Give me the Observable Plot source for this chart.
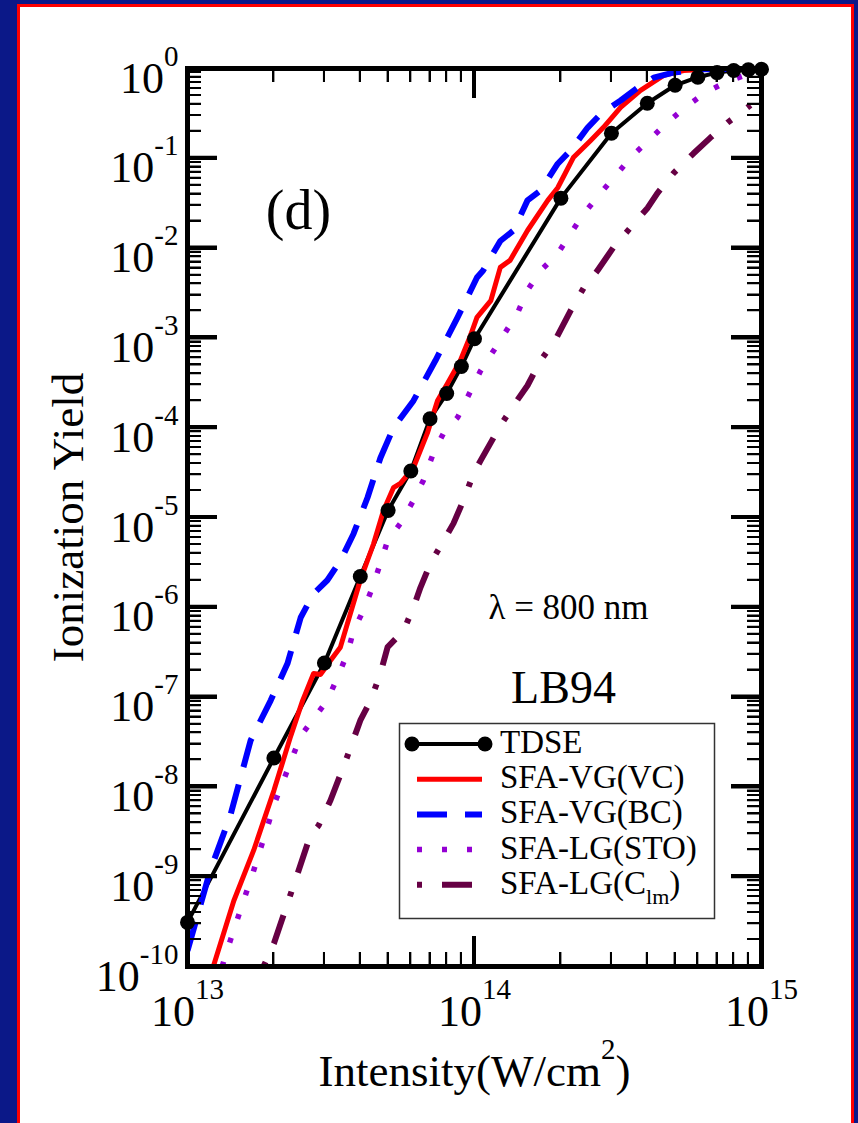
<!DOCTYPE html>
<html><head><meta charset="utf-8">
<script src="https://cdn.jsdelivr.net/npm/d3@7"></script>
<script src="https://cdn.jsdelivr.net/npm/@observablehq/plot@0.6"></script>
<style>
html,body{margin:0;padding:0;width:858px;height:1123px;overflow:hidden;background:#0b1888;}
#panel{position:absolute;left:17px;top:4px;width:831px;height:1140px;border:3px solid #ff0000;background:#fff;}
#chart{position:absolute;left:0;top:0;}
#tickdivs{position:absolute;left:0;top:0;width:858px;height:1123px;pointer-events:none;}
#tickdivs div{position:absolute;background:#000;}
</style></head>
<body><div id="panel"></div><div id="chart"></div><div id="tickdivs"></div>
<script>
// ---- data (intensity in W/cm^2, ionization yield) ----
const tdseX = [1e13, 2e13, 3e13, 4e13, 5e13, 6e13, 7e13, 8e13, 9e13, 1e14, 2e14, 3e14, 4e14, 5e14, 6e14, 7e14, 8e14, 9e14, 1e15];
const tdseY = [3.1e-10, 2.1e-8, 2.4e-7, 2.2e-6, 1.2e-5, 3.3e-5, 1.26e-4, 2.4e-4, 4.8e-4, 9.8e-4, 3.6e-2, 0.19, 0.41, 0.65, 0.80, 0.90, 0.95, 0.97, 0.98];

const vcX = [1.23e13, 1.45e13, 1.70e13, 2.0e13, 2.29e13, 2.52e13, 2.75e13, 2.91e13, 3.15e13, 3.41e13, 4.0e13, 4.45e13, 4.82e13, 5.22e13, 5.52e13, 6.13e13, 6.85e13, 7.43e13, 8.05e13, 8.93e13, 9.68e13, 1.02e14, 1.14e14, 1.23e14, 1.33e14, 1.53e14, 1.80e14, 1.95e14, 2.21e14, 2.54e14, 2.81e14, 3.23e14, 3.79e14, 4.56e14, 5.35e14, 7.2e14, 1e15];
const vcY = [1e-10, 5.4e-10, 1.96e-9, 9.1e-9, 3.7e-8, 9.2e-8, 1.83e-7, 1.79e-7, 2.56e-7, 3.6e-7, 2.0e-6, 5.1e-6, 1.2e-5, 2.15e-5, 2.4e-5, 3.6e-5, 8.7e-5, 2.0e-4, 3.1e-4, 5.6e-4, 1.06e-3, 1.69e-3, 2.6e-3, 6.1e-3, 7.3e-3, 1.57e-2, 3.4e-2, 4.7e-2, 0.102, 0.158, 0.22, 0.37, 0.57, 0.84, 0.95, 1.0, 1.0];

const bcX = [1e13, 1.20e13, 1.41e13, 1.66e13, 1.95e13, 2.23e13, 2.48e13, 2.75e13, 3.07e13, 3.41e13, 3.79e13, 4.24e13, 4.70e13, 5.22e13, 6.13e13, 7.31e13, 8.73e13, 1.02e14, 1.07e14, 1.23e14, 1.37e14, 1.53e14, 1.70e14, 1.95e14, 2.16e14, 2.48e14, 2.75e14, 3.23e14, 3.70e14, 4.21e14, 4.93e14, 6.1e14, 1e15];
const bcY = [1.5e-10, 1.17e-9, 4.8e-9, 3.3e-8, 9.2e-8, 2.36e-7, 7.7e-7, 1.42e-6, 2.0e-6, 3.3e-6, 6.6e-6, 1.67e-5, 4.6e-5, 1.0e-4, 2.0e-4, 5.6e-4, 1.69e-3, 4.7e-3, 5.6e-3, 1.2e-2, 1.58e-2, 3.4e-2, 4.4e-2, 8.7e-2, 0.122, 0.22, 0.31, 0.44, 0.61, 0.79, 0.90, 0.98, 1.0];

const stoX = [1.32e13, 1.41e13, 1.70e13, 2.03e13, 2.48e13, 3.07e13, 3.33e13, 3.61e13, 3.79e13, 4.10e13, 4.41e13, 4.70e13, 4.98e13, 5.52e13, 6.13e13, 6.64e13, 7.19e13, 7.80e13, 8.73e13, 1.05e14, 1.23e14, 1.41e14, 1.53e14, 1.70e14, 1.95e14, 2.16e14, 2.40e14, 2.75e14, 3.10e14, 3.50e14, 4.04e14, 4.70e14, 5.43e14, 6.38e14, 7.62e14, 9.16e14, 1e15];
const stoY = [1e-10, 1.95e-10, 1.17e-9, 7.1e-9, 3.7e-8, 9.2e-8, 1.65e-7, 3.1e-7, 5.5e-7, 9.2e-7, 1.66e-6, 3.1e-6, 5.5e-6, 8.6e-6, 1.55e-5, 2.6e-5, 5.2e-5, 8.7e-5, 1.30e-4, 4.3e-4, 9.4e-4, 1.87e-3, 3.4e-3, 5.6e-3, 8.7e-3, 1.45e-2, 2.4e-2, 4.1e-2, 6.4e-2, 0.102, 0.158, 0.25, 0.37, 0.54, 0.72, 0.88, 0.92];

const clmX = [1.84e13, 2.0e13, 2.42e13, 2.68e13, 2.86e13, 3.15e13, 3.56e13, 4.0e13, 4.35e13, 4.70e13, 4.98e13, 5.66e13, 6.13e13, 6.48e13, 7.03e13, 7.80e13, 8.45e13, 9.15e13, 9.93e13, 1.05e14, 1.23e14, 1.37e14, 1.53e14, 1.70e14, 1.91e14, 2.16e14, 2.40e14, 2.68e14, 3.05e14, 3.50e14, 4.01e14, 4.34e14, 4.93e14, 5.79e14, 6.64e14, 7.62e14, 9.16e14];
const clmY = [1e-10, 1.8e-10, 1.09e-9, 2.9e-9, 3.7e-9, 7.1e-9, 1.96e-8, 5.5e-8, 9.2e-8, 1.83e-7, 3.6e-7, 5.5e-7, 1.0e-6, 1.66e-6, 3.1e-6, 5.5e-6, 8.6e-6, 1.55e-5, 3.1e-5, 4.3e-5, 1.05e-4, 1.78e-4, 2.95e-4, 5.6e-4, 9.4e-4, 2.0e-3, 3.6e-3, 5.6e-3, 1.02e-2, 1.70e-2, 2.8e-2, 4.1e-2, 6.8e-2, 0.113, 0.17, 0.25, 0.39];

const seriesNames = ["TDSE", "SFA-VG(VC)", "SFA-VG(BC)", "SFA-LG(STO)", "SFA-LG(C_lm)"];
const seriesColors = ["#000000", "#ff0000", "#0000ff", "#9400d3", "#660044"];
const seriesWidths = [4, 5, 6, 5.5, 6];
const seriesDash = [null, null, "30,18", "5,20", "5,20,30,20"];

const xMajor = [1e13, 1e14, 1e15];
const yMajor = [1e-10, 1e-9, 1e-8, 1e-7, 1e-6, 1e-5, 1e-4, 1e-3, 1e-2, 1e-1, 1e0];
const minorMult = [2, 3, 4, 5, 6, 7, 8, 9];
const xMinor = [1e13, 1e14].flatMap(d => minorMult.map(m => m * d));
const yMinor = yMajor.slice(0, -1).flatMap(d => minorMult.map(m => m * d));

const FONT = "Liberation Serif";
const W = 858, H = 1123, ML = 187, MR = 97, MT = 68, MB = 157;
const rows = (xs, ys) => xs.map((x, i) => ({x, y: ys[i]}));
const expFmt = d => `10^${Math.round(Math.log10(d))}^`;

const curveData = [rows(vcX, vcY), rows(bcX, bcY), rows(stoX, stoY), rows(clmX, clmY)];
const txt = (s, o) => Plot.text([s], {text: d => d, fontFamily: FONT, textAnchor: "middle", lineAnchor: "bottom", ...o});

const svg = Plot.plot({
  width: W, height: H,
  marginLeft: ML, marginRight: MR, marginTop: MT, marginBottom: MB,
  style: {fontFamily: FONT, background: "transparent", color: "black", overflow: "visible"},
  x: {type: "log", domain: [1e13, 1e15], axis: null, label: null},
  y: {type: "log", domain: [1e-10, 1], axis: null, label: null},
  marks: [
    Plot.axisY(yMajor, {anchor: "left", tickSize: 0, tickPadding: 9, fontSize: 44, fontFamily: FONT, tickFormat: expFmt, label: null}),
    Plot.axisX(xMajor, {anchor: "bottom", tickSize: 0, tickPadding: 0, fontSize: 44, fontFamily: FONT, tickFormat: expFmt, label: null}),
    Plot.line(rows(tdseX, tdseY), {x: "x", y: "y", stroke: seriesColors[0], strokeWidth: seriesWidths[0]}),
    ...curveData.map((data, k) => Plot.line(data, {
      x: "x", y: "y", stroke: seriesColors[k + 1], strokeWidth: seriesWidths[k + 1],
      strokeDasharray: seriesDash[k + 1], strokeLinecap: "butt", clip: true
    })),
    txt("Ionization Yield", {frameAnchor: "left", dx: -105, rotate: -90, fontSize: 45}),
    txt("Intensity(W/cm^2^)", {frameAnchor: "bottom", dy: 119, fontSize: 45}),
    txt("(d)", {frameAnchor: "top-left", dx: 111, dy: 160, fontSize: 56}),
    txt("λ = 800 nm", {frameAnchor: "top-left", dx: 381, dy: 550, fontSize: 35}),
    txt("LB94", {frameAnchor: "top-left", dx: 376, dy: 634, fontSize: 46}),
    Plot.frame({stroke: "black", strokeWidth: 5, fill: "none"}),
    Plot.dot(rows(tdseX, tdseY), {x: "x", y: "y", r: 7.5, fill: seriesColors[0], stroke: "none"})
  ]
});

const root = d3.select(svg);
root.selectAll('g[aria-label="y-axis tick label"] text').attr("y", 24).attr("dy", null);
root.selectAll('g[aria-label="x-axis tick label"] text').attr("y", 59).attr("dy", null);
root.selectAll("text").each(function () {
  const t = this.textContent;
  if (!t.includes("^")) return;
  const [base, sup, rest] = t.split("^");
  const el = d3.select(this);
  el.text(null);
  el.append("tspan").text(base);
  el.append("tspan").attr("dy", -27).attr("font-size", 29).text(sup);
  if (rest) el.append("tspan").attr("dy", 27).text(rest);
});

// legend (inside plot area)
const lg = root.append("g").attr("font-family", FONT).attr("font-size", 33).attr("text-anchor", "start");
lg.append("rect").attr("x", 399.5).attr("y", 723.5).attr("width", 315).attr("height", 195)
  .attr("fill", "white").attr("stroke", "#333").attr("stroke-width", 1.5);
seriesNames.forEach((name, i) => {
  const base = 753 + i * 35.2;
  const ly = base - 9;
  const x1 = i === 0 ? 412 : 417, x2 = i === 0 ? 485 : 482;
  lg.append("line").attr("x1", x1).attr("x2", x2).attr("y1", ly).attr("y2", ly)
    .attr("stroke", seriesColors[i]).attr("stroke-width", seriesWidths[i])
    .attr("stroke-dasharray", seriesDash[i]);
  if (i === 0) {
    [x1, x2].forEach(cx => lg.append("circle").attr("cx", cx).attr("cy", ly).attr("r", 7.5).attr("fill", seriesColors[0]));
  }
  const tx = lg.append("text").attr("x", 500).attr("y", base).attr("text-anchor", "start");
  if (name.includes("_")) {
    const [a, b] = name.split("_");
    tx.append("tspan").text(a);
    tx.append("tspan").attr("dy", 10).attr("font-size", 22).text(b.replace(")", ""));
    tx.append("tspan").attr("dy", -10).text(")");
  } else {
    tx.text(name);
  }
});

// inward ticks on all four sides, positioned with the plot's own scales
const sx = svg.scale("x"), sy = svg.scale("y");
const tickSets = [[yMinor, "y", 14, 2], [yMajor, "y", 30, 4], [xMinor, "x", 14, 2], [xMajor, "x", 30, 4]];
tickSets.forEach(([vals, axis, len, w]) => {
  let d = "";
  vals.forEach(v => {
    if (axis === "y") {
      const y = Number(sy.apply(v)).toFixed(2);
      d += `M${ML},${y}h${len}M${W - MR},${y}h${-len}`;
    } else {
      const x = Number(sx.apply(v)).toFixed(2);
      d += `M${x},${H - MB}v${-len}M${x},${MT}v${len}`;
    }
  });
  root.append("path").attr("d", d).attr("fill", "none").attr("stroke", "#000").attr("stroke-width", w);
});
document.getElementById("chart").appendChild(svg);

// same ticks also as HTML boxes on top of the chart
const holder = document.getElementById("tickdivs");
tickSets.forEach(([vals, axis, len, w]) => {
  vals.forEach(v => {
    const boxes = [];
    if (axis === "y") {
      const y = sy.apply(v);
      boxes.push([ML, y - w / 2, len, w], [W - MR - len, y - w / 2, len, w]);
    } else {
      const x = sx.apply(v);
      boxes.push([x - w / 2, H - MB - len, w, len], [x - w / 2, MT, w, len]);
    }
    boxes.forEach(([l, t, bw, bh]) => {
      const el = document.createElement("div");
      el.style.left = l + "px"; el.style.top = t + "px";
      el.style.width = bw + "px"; el.style.height = bh + "px";
      holder.appendChild(el);
    });
  });
});
</script></body></html>
